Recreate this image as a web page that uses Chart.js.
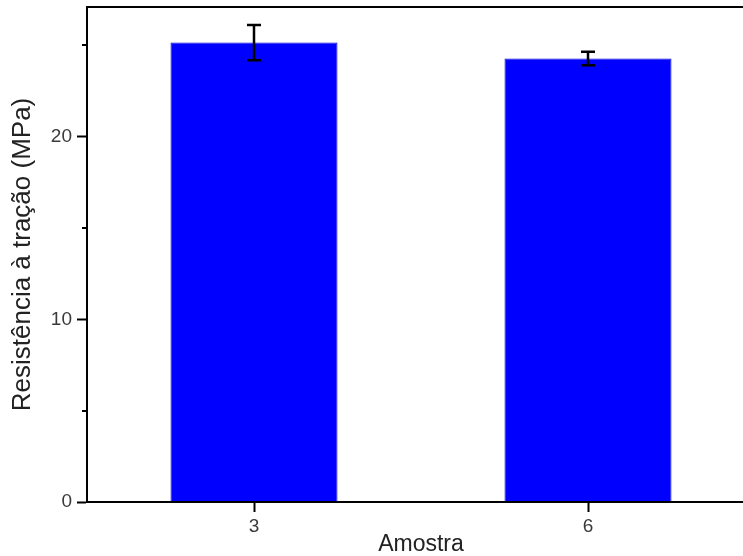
<!DOCTYPE html>
<html>
<head>
<meta charset="utf-8">
<script src="https://cdn.jsdelivr.net/npm/chart.js@4.4.1/dist/chart.umd.min.js"></script>
<style>
html,body{margin:0;padding:0;background:#fff;overflow:hidden;}
#wrap{width:770px;height:556px;}
</style>
</head>
<body>
<div id="wrap"><canvas id="c" width="770" height="556"></canvas></div>
<script>
const categories = ['3', '6'];
const strength = [25.15, 24.28];
const errors = [0.97, 0.37];
const minorTicks = [5, 15, 25];
const yMax = 27.1;

const FONT = '"Liberation Sans", Arial, Helvetica, sans-serif';

const frameAndErrors = {
  id: 'frameAndErrors',
  afterDatasetsDraw(chart) {
    const ctx = chart.ctx;
    const y = chart.scales.y;
    const meta = chart.getDatasetMeta(0);
    ctx.save();
    ctx.strokeStyle = '#000';
    ctx.lineWidth = 2.5;
    meta.data.forEach((bar, i) => {
      const top = y.getPixelForValue(strength[i] + errors[i]);
      const bot = y.getPixelForValue(strength[i] - errors[i]);
      const cx = bar.x;
      ctx.beginPath();
      ctx.moveTo(cx, top); ctx.lineTo(cx, bot);
      ctx.moveTo(cx - 7, top); ctx.lineTo(cx + 7, top);
      ctx.moveTo(cx - 7, bot); ctx.lineTo(cx + 7, bot);
      ctx.stroke();
    });
    const a = chart.chartArea;
    ctx.lineWidth = 2;
    ctx.strokeRect(a.left, a.top, a.right - a.left, a.bottom - a.top);
    ctx.beginPath();
    minorTicks.forEach(v => {
      const py = Math.round(y.getPixelForValue(v));
      ctx.moveTo(a.left - 5, py); ctx.lineTo(a.left, py);
    });
    ctx.stroke();
    ctx.restore();
  }
};

new Chart(document.getElementById('c'), {
  type: 'bar',
  data: {
    labels: categories,
    datasets: [{
      data: strength,
      backgroundColor: '#0000ff',
      borderColor: '#0000d0',
      borderWidth: 1,
      barPercentage: 0.5,
      categoryPercentage: 1.0
    }]
  },
  options: {
    responsive: false,
    animation: false,
    events: [],
    layout: { padding: { top: 7, right: 15, left: 0, bottom: 0 } },
    plugins: { legend: { display: false }, tooltip: { enabled: false } },
    scales: {
      x: {
        offset: true,
        grid: { offset: false, drawOnChartArea: false, drawTicks: true, tickLength: 10, tickColor: '#000', tickWidth: 2 },
        border: { display: true, color: '#000', width: 2 },
        ticks: { color: '#3a3a3a', font: { family: FONT, size: 19 }, padding: 3 },
        title: { display: true, text: 'Amostra', color: '#222', font: { family: FONT, size: 23 }, padding: { top: 0, bottom: -2 } },
        afterFit(s) { s.height = 54; s.paddingLeft = 0; s.paddingRight = 0; }
      },
      y: {
        min: 0,
        max: yMax,
        grid: { drawOnChartArea: false, tickLength: 10, tickWidth: 2, tickColor: ctx => (ctx.tick && ctx.tick.value % 10 === 0) ? '#000' : 'rgba(0,0,0,0)' },
        border: { display: true, color: '#000', width: 2 },
        ticks: {
          stepSize: 10,
          includeBounds: false,
          color: '#3a3a3a',
          font: { family: FONT, size: 19 },
          padding: 5
        },
        title: { display: true, text: 'Resistência à tração (MPa)', color: '#222', font: { family: FONT, size: 26 }, padding: { top: 7, bottom: 0 } },
        afterFit(s) { s.width = 87; s.paddingTop = 0; s.paddingBottom = 0; }
      }
    }
  },
  plugins: [frameAndErrors]
});
</script>
</body>
</html>
